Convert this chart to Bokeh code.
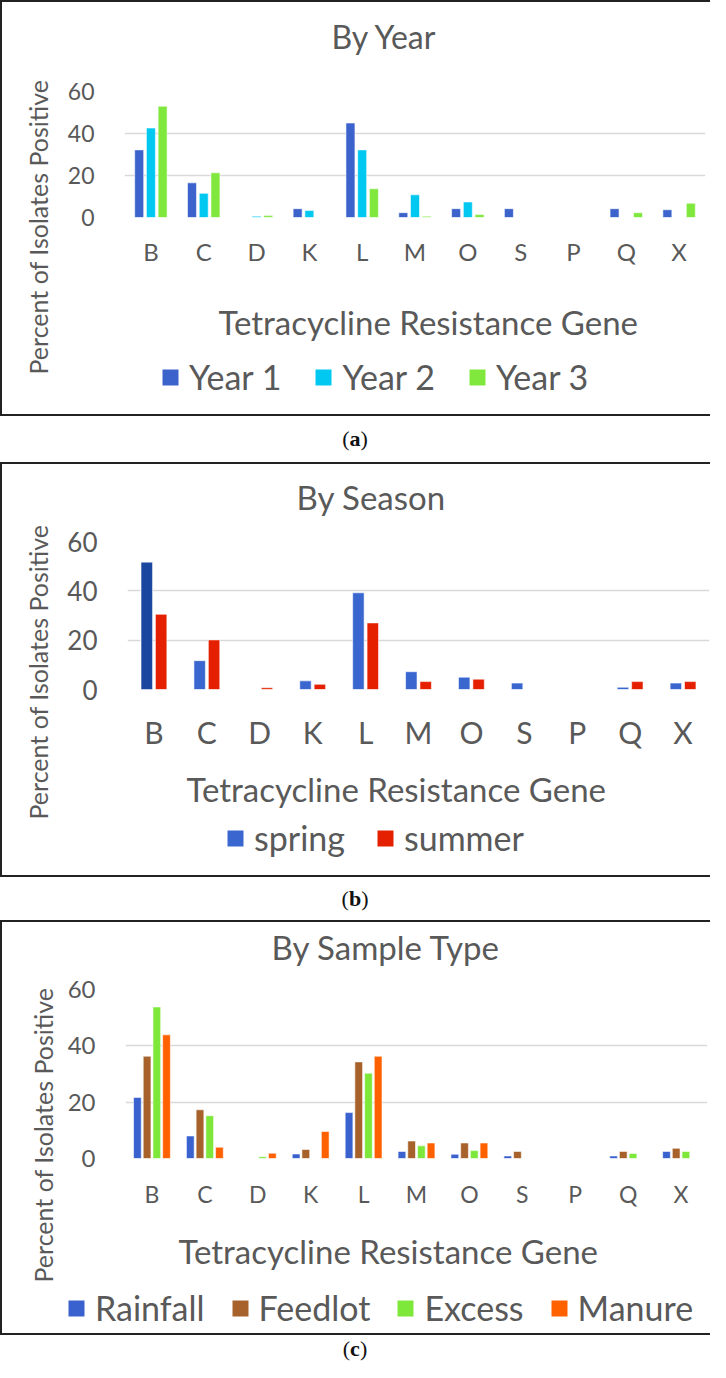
import math
from bokeh.plotting import figure
from bokeh.models import (FactorRange, Range1d, FixedTicker, Legend, LegendItem,
                          Div, Label)
from bokeh.transform import dodge
from bokeh.layouts import column, row
from bokeh.embed import file_html
from bokeh.resources import INLINE

# ---------------- data ----------------
genes = ["B", "C", "D", "K", "L", "M", "O", "S", "P", "Q", "X"]

year1 = [32.2, 16.5, 0.0, 4.2, 45.0, 2.3, 4.2, 4.2, 0.0, 4.2, 3.7]
year2 = [42.6, 11.5, 0.6, 3.3, 32.2, 10.8, 7.4, 0.0, 0.0, 0.0, 0.0]
year3 = [53.0, 21.3, 0.9, 0.0, 13.7, 0.6, 1.4, 0.0, 0.0, 2.3, 6.8]

spring = [51.6, 11.7, 0.0, 3.5, 39.2, 7.2, 5.0, 2.6, 0.0, 0.9, 2.6]
summer = [30.5, 20.1, 0.7, 2.1, 27.0, 3.2, 4.2, 0.0, 0.0, 3.2, 3.2]

rainfall = [21.7, 8.0, 0.0, 1.6, 16.3, 2.5, 1.5, 0.9, 0.0, 0.9, 2.5]
feedlot = [36.3, 17.3, 0.0, 3.2, 34.3, 6.2, 5.5, 2.5, 0.0, 2.5, 3.6]
excess = [53.8, 15.2, 0.6, 0.0, 30.3, 4.5, 2.8, 0.0, 0.0, 1.8, 2.5]
manure = [43.9, 4.0, 1.9, 9.6, 36.3, 5.5, 5.5, 0.0, 0.0, 0.0, 0.0]

y_ticks = [0, 20, 40, 60]
y_title = "Percent of Isolates Positive"
x_title = "Tetracycline Resistance Gene"

TEXT = "#595959"
GRID = "#d9d9d9"
FONT = "Lato"
W = 710          # whole box width
YW = 62          # strip holding the vertical axis title
CW = W - 2 - YW  # width of the chart column
LINE = "#222222"


def no_align(f):
    try:
        f.frame_align = False
    except Exception:
        pass


def strip(height, title, size, offset, top, left, right, bottom=0):
    """A figure without axes that only carries a title (and maybe a legend)."""
    f = figure(width=CW, height=height, x_range=FactorRange(*genes),
               y_range=Range1d(-1000, -999), output_backend="svg",
               toolbar_location=None, tools="", x_axis_location=None,
               y_axis_location=None)
    f.min_border = 0
    f.min_border_top = top
    f.min_border_bottom = bottom
    f.min_border_left = left
    f.min_border_right = right
    f.outline_line_color = None
    f.grid.visible = False
    f.title.text = title
    f.title.align = "left"
    f.title.offset = offset
    f.title.standoff = 0
    f.title.text_font = FONT
    f.title.text_font_size = f"{size}px"
    f.title.text_font_style = "normal"
    f.title.text_color = TEXT
    return f


def panel(title, names, series, colors, bar_w, offsets, box_h, title_h,
          title_top, title_size, title_off, main_h, top, frame_h, left, right,
          tick_size, cat_size, cat_standoff, xt_top, xt_off, leg_left,
          leg_x, leg_y, leg_size, leg_spacing, yt_x, yt_y, extra=None):
    # ---- title strip
    tf = strip(title_h, title, title_size, title_off, title_top, left, right)

    # ---- chart
    p = figure(width=CW, height=main_h, x_range=FactorRange(*genes),
               y_range=Range1d(0, 60), output_backend="svg",
               toolbar_location=None, tools="")
    p.min_border = 0
    p.min_border_top = top
    p.min_border_bottom = main_h - top - frame_h
    p.min_border_left = left
    p.min_border_right = right
    p.outline_line_color = None

    p.yaxis.ticker = FixedTicker(ticks=y_ticks)
    p.yaxis.axis_line_color = None
    p.yaxis.major_tick_line_color = None
    p.yaxis.minor_tick_line_color = None
    p.yaxis.major_label_standoff = 24
    p.yaxis.major_label_text_font = FONT
    p.yaxis.major_label_text_font_size = f"{tick_size}px"
    p.yaxis.major_label_text_color = TEXT

    p.xaxis.axis_line_color = None
    p.xaxis.major_tick_line_color = None
    p.xaxis.major_label_standoff = cat_standoff
    p.xaxis.major_label_text_font = FONT
    p.xaxis.major_label_text_font_size = f"{cat_size}px"
    p.xaxis.major_label_text_color = TEXT

    p.xgrid.grid_line_color = None
    p.ygrid.grid_line_color = GRID
    p.ygrid.grid_line_width = 1.6

    data = {"gene": genes}
    for n, s in zip(names, series):
        data[n] = s
    for n, c, off in zip(names, colors, offsets):
        p.vbar(x=dodge("gene", off, range=p.x_range), top=n, width=bar_w,
               source=data, fill_color=c, line_color="white",
               line_width=0.8, line_alpha=0.7)
    if extra is not None:
        extra(p)

    # ---- x title + legend strip
    lf = strip(box_h - title_h - main_h, x_title, 33, xt_off, xt_top,
               leg_left, right)
    if leg_left != left:
        no_align(lf)
    items = []
    for n, c in zip(names, colors):
        # legend proxies: same data, muted (invisible) in the strip itself
        r = lf.vbar(x=genes, top=data[n], width=0.2, fill_color=c,
                    line_color=None, muted_fill_alpha=0, muted_line_alpha=0)
        r.muted = True
        items.append(LegendItem(label=n, renderers=[r]))
    leg = Legend(items=items, orientation="horizontal",
                 location=(leg_x, leg_y),
                 glyph_width=20, glyph_height=20, label_standoff=9,
                 spacing=leg_spacing, padding=0, margin=0,
                 border_line_color=None, background_fill_alpha=0,
                 label_text_font=FONT, label_text_font_size=f"{leg_size}px",
                 label_text_color=TEXT)
    lf.add_layout(leg)

    # ---- vertical axis title strip
    yf = figure(width=YW, height=box_h, x_range=Range1d(0, YW),
                y_range=Range1d(0, box_h), output_backend="svg",
                toolbar_location=None, tools="", x_axis_location=None,
                y_axis_location=None)
    yf.min_border = 0
    yf.outline_line_color = None
    yf.grid.visible = False
    yf.add_layout(Label(x=yt_x, y=yt_y, text=y_title, angle=math.pi / 2,
                        text_align="left", text_baseline="middle",
                        text_font=FONT, text_font_size="25px",
                        text_color=TEXT))

    hline = lambda: Div(text="", width=W, height=2, margin=0,
                        styles={"background-color": LINE})
    vline = Div(text="", width=2, height=box_h, margin=0,
                styles={"background-color": LINE})
    body = row(vline, yf, column(tf, p, lf, spacing=0), spacing=0)
    return column(hline(), body, hline(), spacing=0)


pa = panel("By Year", ["Year 1", "Year 2", "Year 3"], [year1, year2, year3],
           ["#3c63cc", "#00c8f0", "#80e83c"], 0.17, [-0.222, 0.0, 0.222],
           box_h=412, title_h=62, title_top=53, title_size=32,
           title_off=207, main_h=204, top=27, frame_h=129, left=60, right=5,
           tick_size=23, cat_size=24, cat_standoff=13, xt_top=73, xt_off=94,
           leg_left=60, leg_x=36, leg_y=17, leg_size=34, leg_spacing=32,
           yt_x=35.5, yt_y=40)


def dark_b(p):
    i = genes.index("B")
    p.vbar(x=dodge("gene", -0.136, range=p.x_range), top="spring",
           width=0.216, source={"gene": [genes[i]], "spring": [spring[i]]},
           fill_color="#1b46a0", line_color="white", line_width=0.8,
           line_alpha=0.7)


pb = panel("By Season", ["spring", "summer"], [spring, summer],
           ["#3a66d0", "#e52000"], 0.216, [-0.136, 0.136],
           box_h=411, title_h=56, title_top=52, title_size=33,
           title_off=169, main_h=232, top=21, frame_h=152, left=60, right=1,
           tick_size=26, cat_size=30, cat_standoff=18, xt_top=56, xt_off=59,
           leg_left=60, leg_x=98, leg_y=17, leg_size=34, leg_spacing=30,
           yt_x=35.5, yt_y=56, extra=dark_b)

pc = panel("By Sample Type", ["Rainfall", "Feedlot", "Excess", "Manure"],
           [rainfall, feedlot, excess, manure],
           ["#3a62cf", "#a6622a", "#7ee83a", "#ff6000"], 0.146,
           [-0.275, -0.092, 0.092, 0.275],
           box_h=411, title_h=48, title_top=44, title_size=33,
           title_off=146, main_h=240, top=19, frame_h=174, left=54, right=3,
           tick_size=24, cat_size=23, cat_standoff=15, xt_top=60, xt_off=114,
           leg_left=0, leg_x=2, leg_y=5, leg_size=34, leg_spacing=25,
           yt_x=40, yt_y=51)


def cap(letter, h):
    return Div(text=f"(<b>{letter}</b>)", width=W, height=h, margin=0,
               styles={"text-align": "center", "font-family": "'Liberation Serif'",
                       "font-size": "22px", "color": "#111",
                       "line-height": f"{h}px"})


layout = column(pa, cap("a", 46), pb, cap("b", 43), pc, cap("c", 27),
                spacing=0)

open("out.html", "w").write(file_html(layout, INLINE))
